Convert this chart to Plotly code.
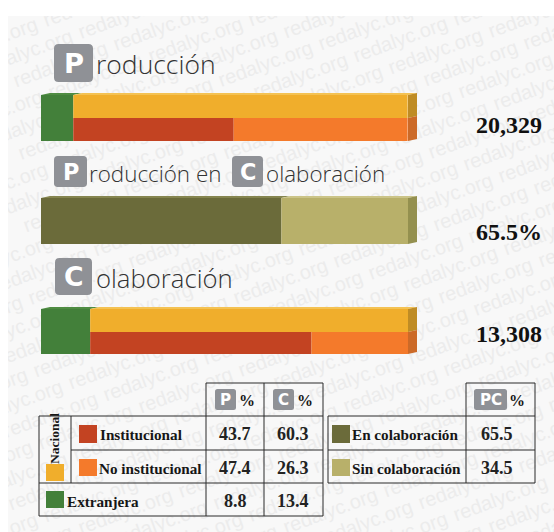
"""Stacked 3D-look bars for produccion / colaboracion, with the small legend tables below."""
import plotly.graph_objects as go

W, H = 554, 532

# ---- data ---- #
# shares in percent: extranjera, institucional, no institucional
produccion = [8.8, 43.7, 47.4]
colaboracion = [13.4, 60.3, 26.3]
# en colaboracion, sin colaboracion
prod_colab = [65.5, 34.5]
totals = ["20,329", "65.5%", "13,308"]

row_names = ["Institucional", "No institucional", "Extranjera"]
col_p = ["43.7", "47.4", "8.8"]
col_c = ["60.3", "26.3", "13.4"]
colab_names = ["En colaboración", "Sin colaboración"]
col_pc = ["65.5", "34.5"]

GREEN, YELLOW, RED, ORANGE = "#43803a", "#f0ae2c", "#c34322", "#f47a2b"
OLIVE, KHAKI = "#6b6b3a", "#b8b06a"
BADGE = "#8f9196"
INK = "#161616"
SERIF = "Liberation Serif"
TITLE = "Open Sans"

# bar x scale: 0..100 percent runs over these pixels
X0, X100 = 41, 408
PX = (X100 - X0) / 100


def xval(p):
    return (p - X0) / PX


fig = go.Figure()


# ---- watermark, as bar text so that the real bars paint over it ---- #
wm_x, wm_y = [], []
for i in range(-12, 18):
    for j in range(-6, 40):
        px = -60 + i * 100 + j * 35
        py = 40 - i * 36.5 + j * 12
        if -80 < px < W + 10 and 0 < py < H + 50:
            wm_x.append(xval(px))
            wm_y.append(py)
fig.add_trace(go.Bar(
    orientation="h", base=wm_x, x=[0.01] * len(wm_x), y=wm_y, width=1,
    marker=dict(color="rgba(0,0,0,0)"), text=["redalyc.org"] * len(wm_x),
    textposition="outside", textangle=-20, constraintext="none", cliponaxis=True,
    textfont=dict(family="Liberation Sans", size=20, color="#ececec"),
    hoverinfo="skip", showlegend=False,
))


# ---- bars ---- #
def add_segment(start, value, top, bottom, color):
    fig.add_trace(go.Bar(
        orientation="h", base=[start], x=[value], y=[(top + bottom) / 2], width=[bottom - top],
        marker=dict(color=color, line=dict(width=0)), hoverinfo="x", showlegend=False,
        textposition="none",
    ))


def add_layered_bar(values, top, mid, bottom):
    ext, inst, noinst = values
    add_segment(0, ext, top, bottom, GREEN)
    add_segment(ext, inst + noinst, top, mid, YELLOW)
    add_segment(ext, inst, mid, bottom, RED)
    add_segment(ext + inst, noinst, mid, bottom, ORANGE)


add_layered_bar(produccion, 95, 118, 141)
add_segment(0, prod_colab[0], 198, 244, OLIVE)
add_segment(prod_colab[0], prod_colab[1], 198, 244, KHAKI)
add_layered_bar(colaboracion, 309, 332, 354)


# ---- decoration helpers, in pixels ---- #
shapes, notes = [], []


def fx(p):
    return p / W


def fy(p):
    return 1 - p / H


def poly(points, color):
    d = "M" + " L".join(f"{fx(x):.5f},{fy(y):.5f}" for x, y in points) + " Z"
    shapes.append(dict(type="path", xref="paper", yref="paper", path=d, fillcolor=color,
                       line=dict(width=0), layer="above"))


def rect(x0, y0, x1, y1, color):
    shapes.append(dict(type="rect", xref="paper", yref="paper", x0=fx(x0), x1=fx(x1),
                       y0=fy(y0), y1=fy(y1), fillcolor=color, line=dict(width=0), layer="above"))


def rule(x0, y0, x1, y1):
    shapes.append(dict(type="line", xref="paper", yref="paper", x0=fx(x0), x1=fx(x1),
                       y0=fy(y0), y1=fy(y1), line=dict(color="#2b2b2b", width=1), layer="above"))


def label(x, y, text, size, family=SERIF, color=INK, bold=False, anchor="left", angle=0, weight=None):
    font = dict(family=family, size=size, color=color)
    if weight:
        font["weight"] = weight
    notes.append(dict(xref="paper", yref="paper", x=fx(x), y=fy(y), text=f"<b>{text}</b>" if bold else text,
                      showarrow=False, xanchor=anchor, yanchor="middle", font=font, textangle=angle,
                      borderpad=0, borderwidth=0))


def badge(x0, y0, x1, y1, letters):
    r = (y1 - y0) * 0.12
    xs, ys = fx, fy
    d = (f"M{xs(x0 + r)},{ys(y0)} L{xs(x1 - r)},{ys(y0)} Q{xs(x1)},{ys(y0)} {xs(x1)},{ys(y0 + r)} "
         f"L{xs(x1)},{ys(y1 - r)} Q{xs(x1)},{ys(y1)} {xs(x1 - r)},{ys(y1)} "
         f"L{xs(x0 + r)},{ys(y1)} Q{xs(x0)},{ys(y1)} {xs(x0)},{ys(y1 - r)} "
         f"L{xs(x0)},{ys(y0 + r)} Q{xs(x0)},{ys(y0)} {xs(x0 + r)},{ys(y0)} Z")
    shapes.append(dict(type="path", xref="paper", yref="paper", path=d, fillcolor=BADGE,
                       line=dict(width=0), layer="above"))
    label((x0 + x1) / 2, (y0 + y1) / 2, letters, (y1 - y0) * 0.72, family="DejaVu Sans", color="white",
          bold=True, anchor="center")


def bar_faces(top, bottom, split_px, top_colors, side_colors, mid=None):
    """Thin top face and right side face that give the bar its depth."""
    dx, dy = 9, 2
    for (a, b), c in zip(split_px, top_colors):
        poly([(a, top), (a + dx, top - dy), (b + dx, top - dy), (b, top)], c)
    if mid is None:
        poly([(X100, top), (X100 + dx, top - dy), (X100 + dx, bottom - dy), (X100, bottom)], side_colors[0])
    else:
        poly([(X100, top), (X100 + dx, top - dy), (X100 + dx, mid - dy), (X100, mid)], side_colors[0])
        poly([(X100, mid), (X100 + dx, mid - dy), (X100 + dx, bottom - dy), (X100, bottom)], side_colors[1])


x_ext_p = X0 + produccion[0] * PX
x_ext_c = X0 + colaboracion[0] * PX
x_pc = X0 + prod_colab[0] * PX
bar_faces(95, 141, [(X0, x_ext_p), (x_ext_p, X100)], ["#4f8c42", "#f4c253"], ["#bf8c25", "#cc6a28"], mid=118)
bar_faces(198, 244, [(X0, x_pc), (x_pc, X100)], ["#85854f", "#cbc488"], ["#94904f"])
bar_faces(309, 354, [(X0, x_ext_c), (x_ext_c, X100)], ["#4f8c42", "#f4c253"], ["#bf8c25", "#cc6a28"], mid=332)

# ---- section titles ---- #
badge(54, 44, 93, 82, "P")
label(96, 64, "roducción", 26.5, family=TITLE, color="#333333", weight=300)
badge(54, 156, 87, 187, "P")
label(89, 173, "roducción en", 22.4, family=TITLE, color="#333333", weight=300)
badge(232, 156, 263, 187, "C")
label(266, 173, "olaboración", 22.4, family=TITLE, color="#333333", weight=300)
badge(55, 258, 92, 295, "C")
label(96, 278, "olaboración", 25.7, family=TITLE, color="#333333", weight=300)

for y, t in zip([125, 232, 334], totals):
    label(542, y, t, 24, bold=True, anchor="right", color="#111111")

# ---- left table ---- #
for y in [416, 483, 516]:
    rule(39, y, 323, y)
rule(206, 383, 323, 383)
rule(71, 450, 323, 450)
rule(39, 416, 39, 516)
rule(71, 416, 71, 483)
for x in [206, 264, 323]:
    rule(x, 383, x, 516)

badge(215, 389, 236, 410, "P")
label(247, 400, "%", 16, bold=True, anchor="center")
badge(273, 389, 294, 410, "C")
label(305, 400, "%", 16, bold=True, anchor="center")

rect(79, 425, 97, 443, RED)
rect(79, 459, 97, 476, ORANGE)
rect(46, 464, 64, 481, YELLOW)
rect(46, 491, 64, 508, GREEN)
label(54, 439, "Nacional", 13.5, bold=True, anchor="center", angle=-90)
row_y = [434.5, 468.5, 501.5]
for name, x, y in zip(row_names, [100, 99, 67], row_y):
    label(x, y, name, 15.2, bold=True)
for p, c, y in zip(col_p, col_c, row_y):
    label(235, y - 1, p, 18, anchor="center", bold=True, color="#222222")
    label(293, y - 1, c, 18, anchor="center", bold=True, color="#222222")

# ---- right table ---- #
for y in [416, 450, 483]:
    rule(328, y, 535, y)
rule(466, 383, 535, 383)
rule(328, 416, 328, 483)
rule(466, 383, 466, 483)
rule(535, 383, 535, 483)

badge(474, 389, 507, 410, "PC")
label(517, 400, "%", 16, bold=True, anchor="center")
rect(332, 425, 350, 443, OLIVE)
rect(332, 459, 350, 476, KHAKI)
for name, v, y in zip(colab_names, col_pc, row_y):
    label(352, y, name, 15.2, bold=True)
    label(497, y - 1, v, 18, anchor="center", bold=True, color="#222222")

fig.update_layout(
    width=W, height=H, autosize=False,
    margin=dict(l=0, r=0, t=0, b=0, pad=0),
    barmode="overlay", showlegend=False,
    paper_bgcolor="white", plot_bgcolor="#f8f8f8",
    xaxis=dict(domain=[8 / W, 1], range=[xval(8), xval(W)], visible=False, fixedrange=True),
    yaxis=dict(domain=[0, 1 - 16 / H], range=[H, 16], visible=False, fixedrange=True),
    shapes=shapes, annotations=notes,
)

fig.write_html("out.html", config=dict(displayModeBar=False), post_script="document.body.style.margin='0';")
